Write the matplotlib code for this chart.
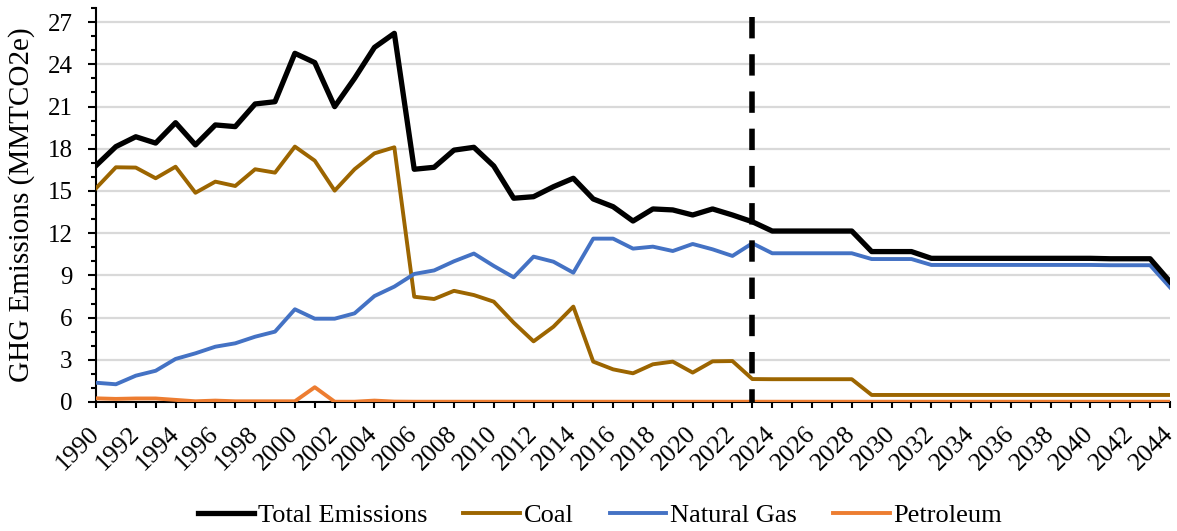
import matplotlib
matplotlib.use("Agg")
import matplotlib.pyplot as plt
from matplotlib.ticker import MultipleLocator

plt.rcParams['font.family'] = ['Liberation Serif', 'DejaVu Serif']

years = list(range(1990, 2045))

total = [16.8, 18.15, 18.85, 18.4, 19.85, 18.27, 19.69, 19.57, 21.18, 21.34,
         24.78, 24.12, 20.99, 23.0, 25.2, 26.2, 16.54, 16.68, 17.9, 18.1,
         16.77, 14.48, 14.59, 15.3, 15.9, 14.43, 13.88, 12.86, 13.72, 13.65,
         13.29, 13.72, 13.29, 12.81, 12.15, 12.15, 12.15, 12.15, 12.15, 10.69,
         10.69, 10.69, 10.21, 10.21, 10.21, 10.21, 10.21, 10.21, 10.21, 10.21,
         10.21, 10.18, 10.18, 10.18, 8.55]
coal = [15.19, 16.68, 16.66, 15.9, 16.72, 14.87, 15.66, 15.35, 16.54, 16.3,
        18.15, 17.15, 15.02, 16.54, 17.67, 18.1, 7.48, 7.32, 7.9, 7.6,
        7.13, 5.64, 4.31, 5.35, 6.78, 2.87, 2.32, 2.04, 2.68, 2.87,
        2.09, 2.89, 2.91, 1.63, 1.62, 1.62, 1.62, 1.62, 1.62, 0.5,
        0.5, 0.5, 0.5, 0.5, 0.5, 0.5, 0.5, 0.5, 0.5, 0.5,
        0.5, 0.5, 0.5, 0.5, 0.5]
gas = [1.37, 1.26, 1.87, 2.22, 3.06, 3.46, 3.93, 4.17, 4.64, 5.0,
       6.59, 5.92, 5.92, 6.3, 7.53, 8.2, 9.1, 9.35, 10.0, 10.55,
       9.67, 8.86, 10.33, 9.97, 9.19, 11.61, 11.61, 10.9, 11.04, 10.73,
       11.23, 10.85, 10.38, 11.28, 10.57, 10.57, 10.57, 10.57, 10.57, 10.16,
       10.16, 10.16, 9.74, 9.74, 9.74, 9.74, 9.74, 9.74, 9.74, 9.74,
       9.74, 9.72, 9.72, 9.72, 8.15]
petroleum = [0.26, 0.22, 0.25, 0.25, 0.15, 0.05, 0.1, 0.05, 0.05, 0.05,
             0.05, 1.05, 0.02, 0.02, 0.1, 0.03, 0.02, 0.02, 0.02, 0.02,
             0.02, 0.02, 0.02, 0.02, 0.02, 0.02, 0.02, 0.02, 0.02, 0.02,
             0.02, 0.02, 0.02, 0.02, 0.02, 0.02, 0.02, 0.02, 0.02, 0.02,
             0.02, 0.02, 0.02, 0.02, 0.02, 0.02, 0.02, 0.02, 0.02, 0.02,
             0.02, 0.02, 0.02, 0.02, 0.02]
split_year = 2023

fig = plt.figure(figsize=(11.77, 5.31), dpi=100)
ax = fig.add_axes([96/1177, 1-402/531, (1170-96)/1177, (402-8)/531])

ax.plot(years, total, color='black', lw=3.8, label='Total Emissions', zorder=5)
ax.plot(years, coal, color='#9C6500', lw=2.8, label='Coal', zorder=4)
ax.plot(years, gas, color='#4472C4', lw=2.8, label='Natural Gas', zorder=4)
ax.plot(years, petroleum, color='#ED7D31', lw=2.8, label='Petroleum', zorder=4)
# projection start, dashes run from the top down like the original
ax.plot([split_year, split_year], [27.36, 0], color='black', lw=4, dashes=(3.85, 2.85), zorder=6)

ax.set_xlim(1990, 2044)
ax.set_ylim(0, 28)
ax.yaxis.set_major_locator(MultipleLocator(3))
ax.yaxis.set_minor_locator(MultipleLocator(1))
ax.set_xticks(years[::2])
ax.set_xticks(years, minor=True)
ax.set_xticklabels([str(y) for y in years[::2]], rotation=45, ha='right', va='center',
                   rotation_mode='anchor')
ax.grid(axis='y', which='major', color='#d9d9d9', lw=1.6, zorder=0)
ax.set_axisbelow(True)
for s in ['top', 'right']:
    ax.spines[s].set_visible(False)
ax.spines['left'].set_linewidth(1.5)
ax.spines['bottom'].set_linewidth(1.5)
ax.tick_params(axis='both', which='both', direction='out', width=1.5)
ax.tick_params(axis='y', which='major', length=6, pad=11, labelsize=18)
ax.tick_params(axis='y', which='minor', length=3.6)
ax.tick_params(axis='x', which='both', length=4.3)
ax.tick_params(axis='x', which='major', pad=16, labelsize=18.5)
ax.set_ylabel('GHG Emissions (MMTCO2e)', fontsize=21, va='center')
ax.yaxis.set_label_coords((22-96)/1074, 0.5)

fig.legend(loc='center', bbox_to_anchor=(600/1177, 1-515/531), ncol=4, frameon=False,
           fontsize=19, handlelength=2.15, handletextpad=0.15, columnspacing=1.35)

fig.savefig('out.png', dpi=100)
